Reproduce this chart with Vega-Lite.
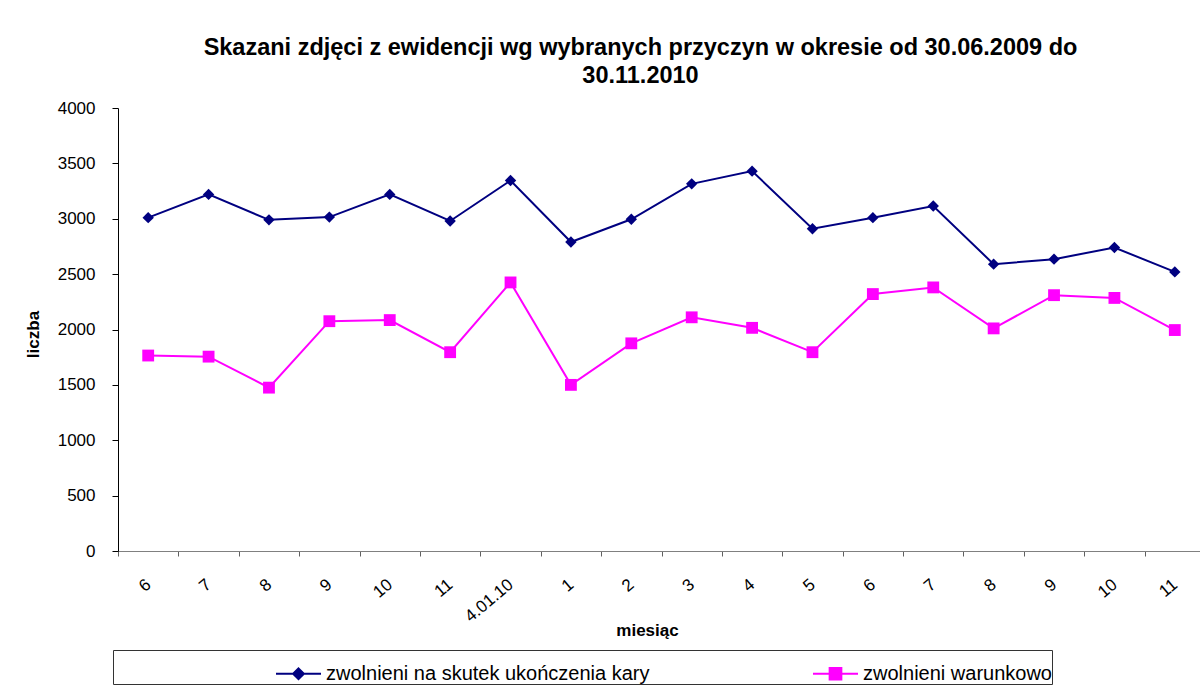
{
  "$schema": "https://vega.github.io/schema/vega-lite/v6.json",
  "width": 1087,
  "height": 443,
  "autosize": {"type": "none"},
  "padding": {"left": 118, "top": 108, "right": 0, "bottom": 140},
  "background": "white",
  "config": {"view": {"stroke": null}, "font": "Liberation Sans"},
  "title": {
    "text": ["Skazani zdjęci z ewidencji wg wybranych przyczyn w okresie od 30.06.2009 do", "30.11.2010"],
    "fontSize": 23.5, "fontWeight": "bold", "font": "Liberation Sans", "color": "black",
    "anchor": "middle", "dx": -21, "offset": 12, "lineHeight": 28
  },
  "data": {"values": [
    {"miesiac": "6|2009", "seria": "zwolnieni na skutek ukończenia kary", "liczba": 3010},
    {"miesiac": "7|2009", "seria": "zwolnieni na skutek ukończenia kary", "liczba": 3220},
    {"miesiac": "8|2009", "seria": "zwolnieni na skutek ukończenia kary", "liczba": 2990},
    {"miesiac": "9|2009", "seria": "zwolnieni na skutek ukończenia kary", "liczba": 3015},
    {"miesiac": "10|2009", "seria": "zwolnieni na skutek ukończenia kary", "liczba": 3220},
    {"miesiac": "11|2009", "seria": "zwolnieni na skutek ukończenia kary", "liczba": 2980},
    {"miesiac": "4.01.10|", "seria": "zwolnieni na skutek ukończenia kary", "liczba": 3345},
    {"miesiac": "1|2010", "seria": "zwolnieni na skutek ukończenia kary", "liczba": 2790},
    {"miesiac": "2|2010", "seria": "zwolnieni na skutek ukończenia kary", "liczba": 2995},
    {"miesiac": "3|2010", "seria": "zwolnieni na skutek ukończenia kary", "liczba": 3315},
    {"miesiac": "4|2010", "seria": "zwolnieni na skutek ukończenia kary", "liczba": 3430},
    {"miesiac": "5|2010", "seria": "zwolnieni na skutek ukończenia kary", "liczba": 2910},
    {"miesiac": "6|2010", "seria": "zwolnieni na skutek ukończenia kary", "liczba": 3010},
    {"miesiac": "7|2010", "seria": "zwolnieni na skutek ukończenia kary", "liczba": 3115},
    {"miesiac": "8|2010", "seria": "zwolnieni na skutek ukończenia kary", "liczba": 2590},
    {"miesiac": "9|2010", "seria": "zwolnieni na skutek ukończenia kary", "liczba": 2635},
    {"miesiac": "10|2010", "seria": "zwolnieni na skutek ukończenia kary", "liczba": 2740},
    {"miesiac": "11|2010", "seria": "zwolnieni na skutek ukończenia kary", "liczba": 2520},
    {"miesiac": "6|2009", "seria": "zwolnieni warunkowo", "liczba": 1765},
    {"miesiac": "7|2009", "seria": "zwolnieni warunkowo", "liczba": 1755},
    {"miesiac": "8|2009", "seria": "zwolnieni warunkowo", "liczba": 1475},
    {"miesiac": "9|2009", "seria": "zwolnieni warunkowo", "liczba": 2075},
    {"miesiac": "10|2009", "seria": "zwolnieni warunkowo", "liczba": 2085},
    {"miesiac": "11|2009", "seria": "zwolnieni warunkowo", "liczba": 1795},
    {"miesiac": "4.01.10|", "seria": "zwolnieni warunkowo", "liczba": 2425},
    {"miesiac": "1|2010", "seria": "zwolnieni warunkowo", "liczba": 1500},
    {"miesiac": "2|2010", "seria": "zwolnieni warunkowo", "liczba": 1875},
    {"miesiac": "3|2010", "seria": "zwolnieni warunkowo", "liczba": 2110},
    {"miesiac": "4|2010", "seria": "zwolnieni warunkowo", "liczba": 2015},
    {"miesiac": "5|2010", "seria": "zwolnieni warunkowo", "liczba": 1795},
    {"miesiac": "6|2010", "seria": "zwolnieni warunkowo", "liczba": 2320},
    {"miesiac": "7|2010", "seria": "zwolnieni warunkowo", "liczba": 2380},
    {"miesiac": "8|2010", "seria": "zwolnieni warunkowo", "liczba": 2010},
    {"miesiac": "9|2010", "seria": "zwolnieni warunkowo", "liczba": 2310},
    {"miesiac": "10|2010", "seria": "zwolnieni warunkowo", "liczba": 2285},
    {"miesiac": "11|2010", "seria": "zwolnieni warunkowo", "liczba": 1995}
  ]},
  "encoding": {
    "x": {
      "field": "miesiac", "type": "ordinal",
      "scale": {"type": "band", "paddingInner": 0, "paddingOuter": 0,
        "domain": ["6|2009", "7|2009", "8|2009", "9|2009", "10|2009", "11|2009", "4.01.10|", "1|2010", "2|2010", "3|2010", "4|2010", "5|2010", "6|2010", "7|2010", "8|2010", "9|2010", "10|2010", "11|2010"]},
      "axis": {
        "title": "miesiąc", "titleFontSize": 17, "titleFontWeight": "bold", "titleColor": "black", "titleFont": "Liberation Sans",
        "titleX": 529, "titleY": 79, "titleBaseline": "middle", "titleAlign": "center",
        "labelExpr": "split(datum.label, '|')[0]", "labelAngle": -40, "labelAlign": "right", "labelBaseline": "middle",
        "labelFontSize": 17, "labelColor": "black", "labelFont": "Liberation Sans", "labelPadding": 26,
        "tickSize": 5, "tickBand": "extent", "domainColor": "#808080", "tickColor": "#606060", "grid": false
      }
    },
    "y": {
      "field": "liczba", "type": "quantitative",
      "scale": {"domain": [0, 4000], "nice": false},
      "axis": {
        "title": "liczba", "titleFontSize": 17, "titleFontWeight": "bold", "titleColor": "black", "titleFont": "Liberation Sans",
        "titleX": -85, "titleY": 226, "titleAlign": "center", "titleBaseline": "middle", "titleAngle": -90,
        "values": [0, 500, 1000, 1500, 2000, 2500, 3000, 3500, 4000], "format": "d",
        "labelFontSize": 17, "labelColor": "black", "labelFont": "Liberation Sans", "labelPadding": 17,
        "tickSize": 6, "domainColor": "black", "tickColor": "black", "grid": false
      }
    }
  },
  "layer": [
    {
      "mark": {"type": "line", "strokeWidth": 2},
      "encoding": {
        "color": {"field": "seria", "type": "nominal",
          "scale": {"domain": ["zwolnieni warunkowo", "zwolnieni na skutek ukończenia kary"], "range": ["#FF00FF", "#000080"]},
          "legend": null}
      }
    },
    {
      "transform": [{"filter": "datum.seria == 'zwolnieni na skutek ukończenia kary'"}],
      "mark": {"type": "point", "shape": "diamond", "filled": true, "size": 130, "color": "#000080", "opacity": 1}
    },
    {
      "transform": [{"filter": "datum.seria == 'zwolnieni warunkowo'"}],
      "mark": {"type": "point", "shape": "square", "filled": true, "size": 140, "color": "#FF00FF", "opacity": 1}
    },
    {
      "transform": [{"filter": "datum.liczba < 0"}],
      "mark": {"type": "point", "filled": true, "strokeWidth": 2, "opacity": 1},
      "encoding": {
        "fill": {"field": "seria", "type": "nominal",
          "scale": {"domain": ["zwolnieni na skutek ukończenia kary", "zwolnieni warunkowo"], "range": ["#000080", "#FF00FF"]},
          "legend": {"title": null, "orient": "none", "legendX": -5, "legendY": 542, "direction": "horizontal",
            "symbolSize": 2025, "symbolOffset": 162, "symbolStrokeWidth": 2, "labelFontSize": 20, "labelFont": "Liberation Sans",
            "labelColor": "black", "labelOffset": 4, "columnPadding": 0, "padding": 0, "strokeColor": "#333333", "labelLimit": 700}},
        "stroke": {"field": "seria", "type": "nominal",
          "scale": {"domain": ["zwolnieni na skutek ukończenia kary", "zwolnieni warunkowo"], "range": ["#000080", "#FF00FF"]},
          "legend": {"title": null, "orient": "none", "legendX": -5, "legendY": 542, "direction": "horizontal",
            "symbolSize": 2025, "symbolOffset": 162, "symbolStrokeWidth": 2, "labelFontSize": 20, "labelFont": "Liberation Sans",
            "labelColor": "black", "labelOffset": 4, "columnPadding": 0, "padding": 0, "strokeColor": "#333333", "labelLimit": 700}},
        "shape": {"field": "seria", "type": "nominal",
          "scale": {"domain": ["zwolnieni na skutek ukończenia kary", "zwolnieni warunkowo"],
            "range": ["M-1,0H1M0,-0.24L0.24,0L0,0.24L-0.24,0Z", "M-1,0H1M-0.26,-0.26H0.26V0.26H-0.26Z"]},
          "legend": {"title": null, "orient": "none", "legendX": -5, "legendY": 542, "direction": "horizontal",
            "symbolSize": 2025, "symbolOffset": 162, "symbolStrokeWidth": 2, "labelFontSize": 20, "labelFont": "Liberation Sans",
            "labelColor": "black", "labelOffset": 4, "columnPadding": 0, "padding": 0, "strokeColor": "#333333", "labelLimit": 700}}
      }
    }
  ]
}
